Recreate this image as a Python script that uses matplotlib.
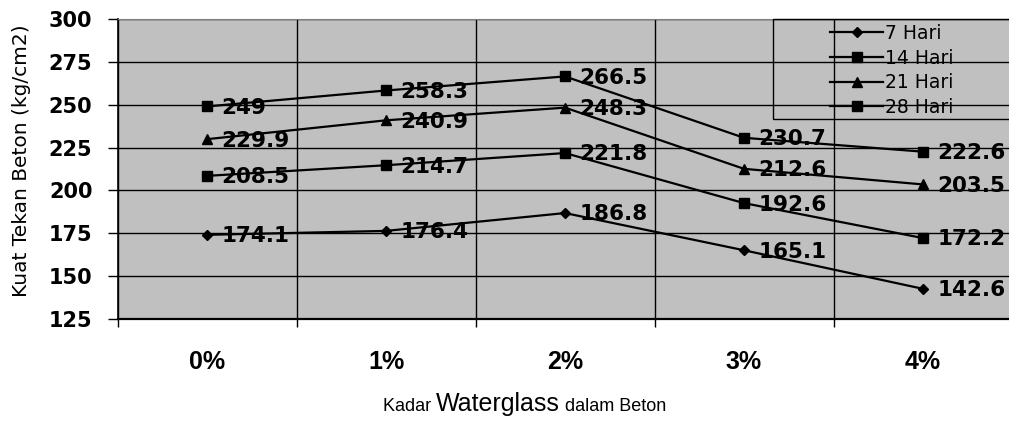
import matplotlib.pyplot as plt
from matplotlib.patches import Rectangle

# compressive strength of concrete per waterglass content
kadar = ['0%', '1%', '2%', '3%', '4%']
hari_7 = [174.1, 176.4, 186.8, 165.1, 142.6]
hari_14 = [208.5, 214.7, 221.8, 192.6, 172.2]
hari_21 = [229.9, 240.9, 248.3, 212.6, 203.5]
hari_28 = [249, 258.3, 266.5, 230.7, 222.6]
y_ticks = [125, 150, 175, 200, 225, 250, 275, 300]

W, H = 1009, 421
fig = plt.figure(figsize=(W / 100, H / 100), dpi=100)
fig.patch.set_facecolor('white')

# axes runs a little past the right edge of the figure
ax = fig.add_axes([117.5 / W, (H - 319) / H, 895 / W, 300 / H])
ax.set_facecolor('#c0c0c0')

xs = list(range(len(kadar)))
series = [
    ('7 Hari', hari_7, 'D', 5),
    ('14 Hari', hari_14, 's', 7),
    ('21 Hari', hari_21, '^', 7),
    ('28 Hari', hari_28, 's', 6.5),
]
lines = []
for name, vals, mk, ms in series:
    ln, = ax.plot(xs, vals, color='black', lw=1.6, marker=mk, ms=ms,
                  mfc='black', mec='black', label=name, zorder=3)
    lines.append(ln)
    for x, v in zip(xs, vals):
        ax.annotate(f'{v:g}', (x, v), xytext=(10.5, -1), textcoords='offset points',
                    ha='left', va='center', fontsize=15.5, fontweight='bold',
                    family='DejaVu Sans', zorder=4)

ax.set_xlim(-0.5, 4.5)
ax.set_ylim(125, 300)
ax.set_yticks(y_ticks)
ax.set_xticks(xs)
ax.set_xticklabels(kadar)
ax.set_xticks([-0.5, 0.5, 1.5, 2.5, 3.5], minor=True)

ax.grid(axis='y', which='major', color='black', lw=1)
ax.grid(axis='x', which='minor', color='black', lw=1)
ax.grid(axis='x', which='major', visible=False)
ax.set_axisbelow(True)

ax.tick_params(axis='y', direction='out', length=7, width=1, pad=11)
ax.tick_params(axis='x', which='major', length=0, pad=22)
ax.tick_params(axis='x', which='minor', direction='out', length=6, width=1)
for lab in ax.get_yticklabels():
    lab.set_fontsize(15)
    lab.set_fontweight('bold')
    lab.set_family('DejaVu Sans')
for lab in ax.get_xticklabels():
    lab.set_fontsize(18)
    lab.set_fontweight('bold')
    lab.set_family('Liberation Sans')

ax.spines['top'].set_color('#808080')
ax.spines['left'].set_linewidth(1.2)
ax.spines['bottom'].set_linewidth(1.6)

fig.text(22 / W, 1 - 161 / H, 'Kuat Tekan Beton (kg/cm2)', rotation=90,
         ha='center', va='center', fontsize=14.5, family='DejaVu Sans')

# x axis title with the larger middle word
base_y = 1 - 411 / H
t1 = fig.text(383 / W, base_y, 'Kadar ', va='baseline', fontsize=13, family='Liberation Sans')
fig.canvas.draw()
r = fig.canvas.get_renderer()
x1 = t1.get_window_extent(r).x1
t2 = fig.text(x1 / W, base_y, 'Waterglass', va='baseline', fontsize=18, family='Liberation Sans')
x2 = t2.get_window_extent(r).x1
fig.text(x2 / W, base_y, ' dalam Beton', va='baseline', fontsize=13, family='Liberation Sans')

# legend box, open to the right
fig.add_artist(Rectangle((772.5 / W, 1 - 118.5 / H), 260 / W, 100 / H, transform=fig.transFigure,
                         fill=False, edgecolor='black', lw=1, zorder=5))
leg = fig.legend(handles=lines, loc='upper left', bbox_to_anchor=(830 / W, 1 - 24 / H),
                 frameon=False, borderpad=0, borderaxespad=0, handlelength=2.85,
                 handletextpad=0.1, labelspacing=0.3, numpoints=1,
                 prop={'family': 'DejaVu Sans', 'size': 13.5})

fig.savefig('out.png', dpi=100)
